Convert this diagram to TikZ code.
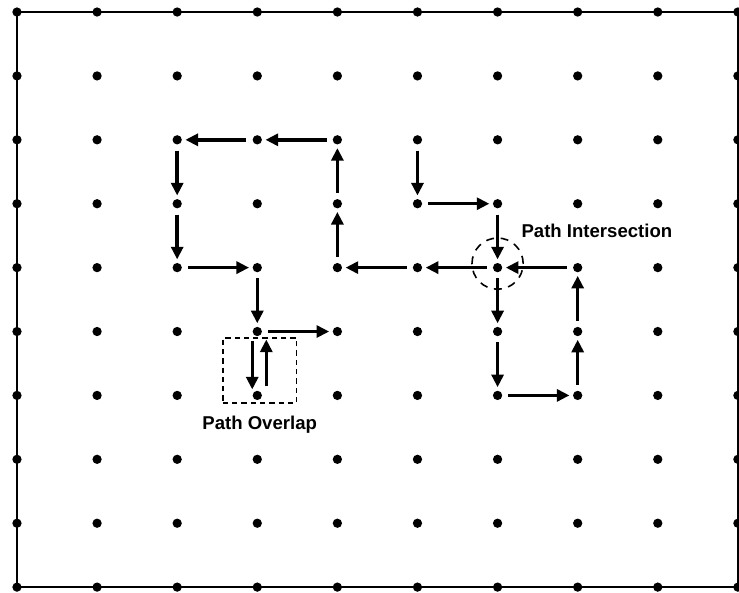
\documentclass[tikz,border=0pt]{standalone}
\usepackage{fontspec}
\setmainfont{Liberation Sans}
\usepackage{tikz}
\usetikzlibrary{arrows.meta, positioning}

\begin{document}
\begin{tikzpicture}[
  x=2.1227cm, y=-1.6934cm,
  font=\bfseries\fontsize{14}{16}\selectfont,
  dot/.style={circle, fill=black, inner sep=0pt, minimum size=7pt},
  flow/.style={-{Triangle[length=9.5pt, width=9pt]}, line width=2.6pt,
               shorten <=4.5pt, shorten >=2.5pt},
  mark box/.style={draw, dashed, dash pattern=on 4pt off 3pt, line width=1.2pt,
                   minimum width=55.5pt, minimum height=48.8pt, inner sep=0pt},
  mark ring/.style={dashed, dash pattern=on 6pt off 5pt, line width=1.2pt},
  lbl/.style={inner sep=0pt}
]
\useasboundingbox (-0.212,-0.188) rectangle (9.014,9.092);

%% ——— Marco y rejilla de puntos ———
\draw[line width=1.2pt] (0,0) rectangle (9,9);
\foreach \i in {0,...,9}
  \foreach \j in {0,...,9}
    \node[dot] (d-\i-\j) at (\i,\j) {};

%% ——— Camino izquierdo ———
\draw[flow] (d-4-2) -- (d-3-2);
\draw[flow] (d-3-2) -- (d-2-2);
\draw[flow] (d-2-2) -- (d-2-3);
\draw[flow] (d-2-3) -- (d-2-4);
\draw[flow] (d-2-4) -- (d-3-4);
\draw[flow] (d-3-4) -- (d-3-5);
\draw[flow] (d-3-5) -- (d-4-5);
\draw[flow] (d-4-4) -- (d-4-3);
\draw[flow] (d-4-3) -- (d-4-2);

%% Solape: ida y vuelta
\draw[flow, shorten <=7.5pt, shorten >=4.5pt]
  ([xshift=-3.8pt]d-3-5.center) -- ([xshift=-3.8pt]d-3-6.center);
\draw[flow, shorten <=6.8pt, shorten >=6pt]
  ([xshift=6.8pt]d-3-6.center) -- ([xshift=6.8pt]d-3-5.center);

%% ——— Camino derecho ———
\draw[flow] (d-5-2) -- (d-5-3);
\draw[flow] (d-5-3) -- (d-6-3);
\draw[flow] (d-6-3) -- (d-6-4);
\draw[flow] (d-7-4) -- (d-6-4);
\draw[flow] (d-6-4) -- (d-5-4);
\draw[flow] (d-5-4) -- (d-4-4);
\draw[flow] (d-6-4) -- (d-6-5);
\draw[flow] (d-6-5) -- (d-6-6);
\draw[flow] (d-6-6) -- (d-7-6);
\draw[flow] (d-7-6) -- (d-7-5);
\draw[flow] (d-7-5) -- (d-7-4);

%% ——— Marcas y etiquetas ———
\node[mark box] (ovbox) at (3.03,5.61) {};
\draw[mark ring] ([yshift=3pt]d-6-4.center) circle (19.3pt);

\node[lbl] (ovlbl) at (3.03,6.46) {Path Overlap};
\node[lbl] (inlbl) at (7.24,3.43) {Path Intersection};

\end{tikzpicture}
\end{document}
